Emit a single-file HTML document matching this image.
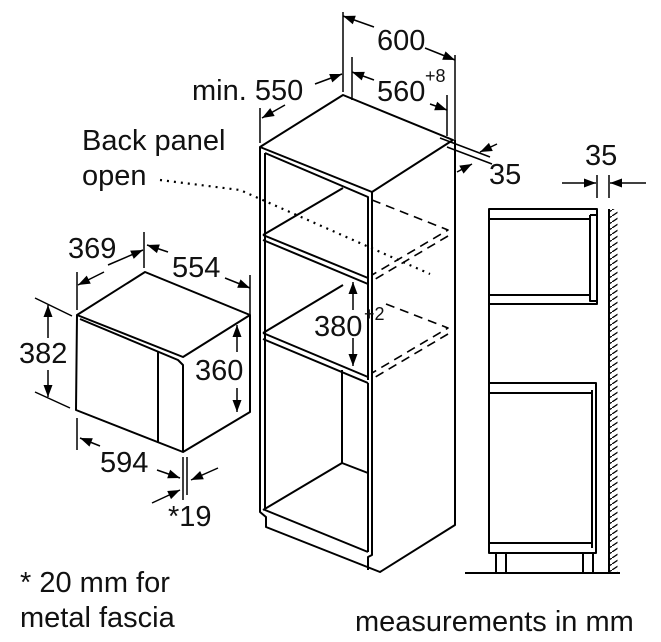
<!DOCTYPE html>
<html><head><meta charset="utf-8"><style>
html,body{margin:0;padding:0;background:#fff;}
svg{display:block;}
text{font-family:"Liberation Sans",Arial,sans-serif;font-size:29px;fill:#111;}
.s{font-size:18px;}
</style></head><body>
<svg width="661" height="642" viewBox="0 0 661 642" xmlns="http://www.w3.org/2000/svg">
<defs>
<marker id="a" viewBox="0 0 12 10" refX="12" refY="5" markerWidth="14" markerHeight="10" orient="auto" markerUnits="userSpaceOnUse"><path d="M0,0.5 L12,5 L0,9.5 z" fill="#000"/></marker>
<pattern id="h" width="9" height="6" patternUnits="userSpaceOnUse"><path d="M0,6 L9,0" stroke="#000" stroke-width="1.3"/></pattern>
</defs>
<g fill="none" stroke="#000" stroke-width="2" stroke-linejoin="round">
<!-- Tall cabinet -->
<path d="M260,147 L343,95 L453,140 L372,192 Z"/>
<path d="M260,147 L260,512 L266,517 L266,527 L380,572 L455,525 L455,140"/>
<path d="M372,192 L372,555 L368,557 L368,570"/>
<path d="M265,153 L265,510 L368,552"/>
<path d="M265,153 L368,197 L368,285"/>
<path d="M263,235 L343,188"/>
<path d="M263,235 L368,278 M263,240 L368,284"/>
<path d="M368,285 L368,380"/>
<path d="M263,333 L343,285"/>
<path d="M263,333 L368,377 M263,339 L368,383"/>
<path d="M368,383 L368,552"/>
<path d="M342,370 L342,463 L368,473 M342,463 L263,510"/>
<g stroke-dasharray="9,6" stroke-width="1.6">
<path d="M372,200 L448,230 L372,275 M448,236 L372,281"/>
<path d="M386,304 L448,328 L372,373 M448,334 L372,379"/>
</g>
<path d="M160,180 L240,190 L430,274" stroke-dasharray="2,5" stroke-width="2.2"/>
<g stroke-width="1.5">
<path d="M343,12 V92 M455,55 V140 M352,57 V100 M447,95 V136 M260,108 V143"/>
<path d="M374,27 L343,16" marker-end="url(#a)"/>
<path d="M425,48 L455,60" marker-end="url(#a)"/>
<path d="M374,80 L352,72" marker-end="url(#a)"/>
<path d="M430,104 L447,110" marker-end="url(#a)"/>
<path d="M315,84 L342,74" marker-end="url(#a)"/>
<path d="M285,105 L262,118" marker-end="url(#a)"/>
<path d="M440,138 L490,157 M447,147 L492,164"/>
<path d="M497,144 L480,152" marker-end="url(#a)"/>
<path d="M457,172 L472,164" marker-end="url(#a)"/>
</g>
<!-- Microwave -->
<path d="M77,315 L145,272 L250,315 L183,357 Z"/>
<path d="M77,315 L76,410 L183,452 L250,412 L250,315"/>
<path d="M80,319 L178,360 L183,365 L183,452"/>
<path d="M158,351 V443"/>
<g stroke-width="1.5">
<path d="M77,272 V310 M144,232 V268 M250,275 V318 M35,298 L72,316 M35,392 L70,408 M77,418 V450 M183,457 V500 M187,457 V495"/>
<path d="M108,265 L143,250" marker-end="url(#a)"/>
<path d="M104,272 L78,285" marker-end="url(#a)"/>
<path d="M168,252 L147,245" marker-end="url(#a)"/>
<path d="M225,278 L250,288" marker-end="url(#a)"/>
<path d="M48,338 V305" marker-end="url(#a)"/>
<path d="M48,370 V397" marker-end="url(#a)"/>
<path d="M237,352 V325" marker-end="url(#a)"/>
<path d="M237,388 V412" marker-end="url(#a)"/>
<path d="M100,446 L80,438" marker-end="url(#a)"/>
<path d="M157,470 L180,478" marker-end="url(#a)"/>
<path d="M152,503 L180,490" marker-end="url(#a)"/>
<path d="M218,468 L191,480" marker-end="url(#a)"/>
<path d="M353,310 V282" marker-end="url(#a)"/>
<path d="M353,338 V366" marker-end="url(#a)"/>
</g>
<!-- side view -->
<rect x="489" y="209" width="108" height="95"/>
<path d="M489,219 H590 M489,295 H590 M590,215 H597 M590,215 V301 H597"/>
<path d="M489,304 V383"/>
<rect x="489" y="383" width="107" height="170"/>
<path d="M489,393 H592 M489,543 H592 M592,390 V548"/>
<path d="M496,553 V573 M506,553 V573 M583,553 V573 M593,553 V573 M465,573 H620"/>
<path d="M609,209 V573"/>
<rect x="609.5" y="209" width="8" height="364" fill="url(#h)" stroke="none"/>
<g stroke-width="1.5">
<path d="M597,175 V198 M609,175 V198"/>
<path d="M562,183 H596" marker-end="url(#a)"/>
<path d="M646,183 H610" marker-end="url(#a)"/>
</g>
</g>
<text x="377" y="50">600</text>
<text x="377" y="101">560</text><text x="425" y="82" class="s">+8</text>
<text x="192" y="100">min. 550</text>
<text x="489" y="184">35</text>
<text x="585" y="165">35</text>
<text x="82" y="150">Back panel</text>
<text x="82" y="185">open</text>
<text x="314" y="336">380</text><text x="364" y="320" class="s">+2</text>
<text x="68" y="258">369</text>
<text x="172" y="277">554</text>
<text x="19" y="363">382</text>
<text x="195" y="380">360</text>
<text x="100" y="472">594</text>
<text x="168" y="526">*19</text>
<text x="20" y="592">* 20 mm for</text>
<text x="20" y="627">metal fascia</text>
<text x="355" y="631">measurements in mm</text>
</svg>
</body></html>
